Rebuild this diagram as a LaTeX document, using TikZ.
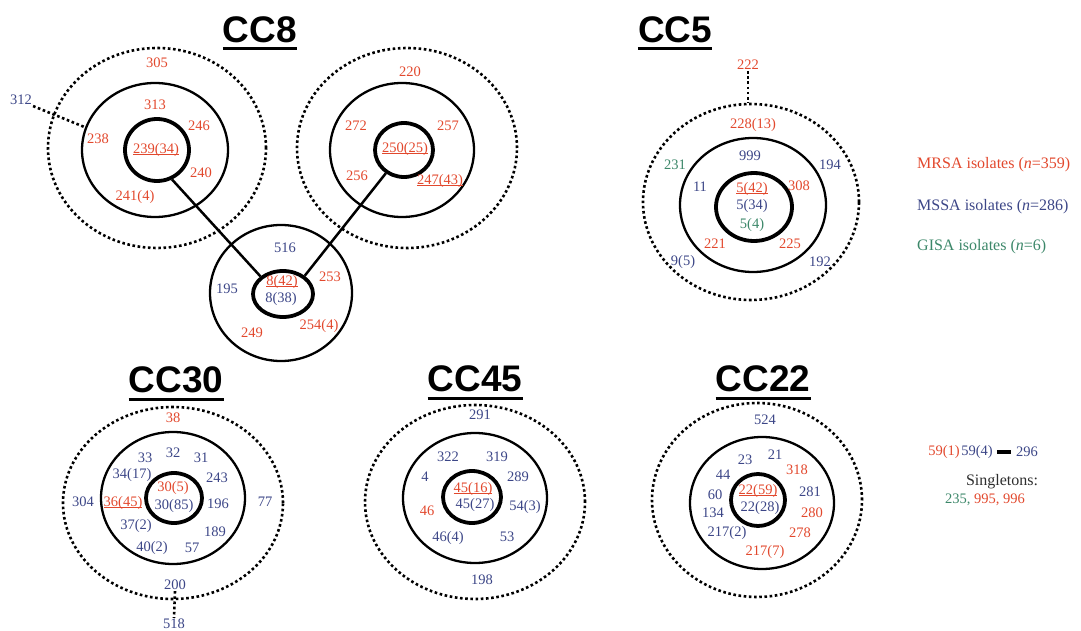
\documentclass[tikz,border=0pt]{standalone}
\usepackage{fontspec}
\setmainfont{Liberation Serif}
\newfontfamily\titlef{Liberation Sans}
\usetikzlibrary{shapes.geometric}
\definecolor{mrsa}{RGB}{226,72,45}
\definecolor{mssa}{RGB}{60,70,135}
\definecolor{gisa}{RGB}{60,135,105}
\definecolor{sgl}{RGB}{45,45,45}
\newcommand{\ulnum}[1]{\underline{\raisebox{0pt}[\height][0pt]{#1}}}
\tikzset{
  outerring/.style n args={2}{draw,ellipse,inner sep=0pt,line width=2.6pt,dash pattern=on 2.6pt off 2.6pt,minimum width=#1,minimum height=#2},
  midring/.style n args={2}{draw,ellipse,inner sep=0pt,line width=2.3pt,minimum width=#1,minimum height=#2},
  corering/.style n args={2}{draw,ellipse,inner sep=0pt,line width=3.8pt,minimum width=#1,minimum height=#2},
  lbl/.style={inner sep=1pt,font=\fontsize{14.5}{16}\selectfont},
  R/.style={lbl,text=mrsa},
  B/.style={lbl,text=mssa},
  G/.style={lbl,text=gisa},
  leg/.style={inner sep=0pt,anchor=west,font=\fontsize{16}{18}\selectfont},
  cctitle/.style={inner sep=0pt,font=\titlef\bfseries\fontsize{37}{40}\selectfont},
  uline/.style={line width=3pt},
  link/.style={line width=2.5pt},
  dotlink/.style={line width=2.6pt,dash pattern=on 2.6pt off 2.6pt},
}
\begin{document}
\begin{tikzpicture}[x=1pt,y=-1pt]
\useasboundingbox (0,0) rectangle (1081,631);
% ---------- titles ----------
\foreach \nm/\tx/\px/\py in {t8/CC8/260/29.5, t5/CC5/675/29.5, t30/CC30/176/380, t45/CC45/475/379, t22/CC22/763/379}{
  \node[cctitle] (\nm) at (\px,\py) {\tx};
  \draw[uline] ([yshift=-6pt]\nm.south west) -- ([yshift=-6pt]\nm.south east);
}
% ---------- CC8 left ----------
\node[outerring={218pt}{200pt}] (o239) at (157,148) {};
\node[midring={146pt}{134pt}] (m239) at (155,150) {};
\node[corering={64pt}{62pt}] (c239) at (157,150) {};
\node[R] (l305) at (157,63) {305};
\node[B] (l312) at (21,100) {312};
\node[R] (l313) at (155,105) {313};
\node[R] (l246) at (199,126) {246};
\node[R] (l238) at (98,139) {238};
\node[R] (l239) at (156,149) {\ulnum{239(34)}};
\node[R] (l240) at (201,173) {240};
\node[R] (l241) at (135,197) {241(4)};
\draw[dotlink] (l312.south east) -- (m239.162);
% ---------- CC8 right ----------
\node[outerring={220pt}{200pt}] (o250) at (407,148) {};
\node[midring={144pt}{134pt}] (m250) at (402,150) {};
\node[corering={58pt}{54pt}] (c250) at (404,150) {};
\node[R] (l220) at (410,72) {220};
\node[R] (l272) at (356,126) {272};
\node[R] (l257) at (448,126) {257};
\node[R] (l250) at (405,148) {\ulnum{250(25)}};
\node[R] (l256) at (357,176) {256};
\node[R] (l247) at (440,180) {\ulnum{247(43)}};
% ---------- CC8 bottom ----------
\node[midring={142pt}{136pt}] (m8) at (281,293) {};
\node[corering={60pt}{46pt}] (c8) at (283,294) {};
\node[B] (l516) at (285,248) {516};
\node[B] (l195) at (227,289) {195};
\node[R] (l842) at (282,281) {\ulnum{8(42)}};
\node[B] (l838) at (281,299) {8(38)};
\node[R] (l253) at (330,277) {253};
\node[R] (l249) at (252,333) {249};
\node[R] (l254) at (319,326) {254(4)};
\draw[link] (c239.-63) -- (c8.142);
\draw[link] (c250.-128) -- (c8.40);
% ---------- CC5 ----------
\node[outerring={216pt}{196pt}] (o5) at (751,202) {};
\node[midring={146pt}{134pt}] (m5) at (753,205) {};
\node[corering={76pt}{68pt}] (c5) at (754,207) {};
\node[R] (l222) at (748,65) {222};
\draw[dotlink] (l222.south) -- (l222.south |- o5.north);
\node[R] (l228) at (753,125) {228(13)};
\node[B] (l999) at (750,156) {999};
\node[G] (l231) at (675,165) {231};
\node[B] (l194) at (830,165) {194};
\node[B] (l11) at (700,187) {11};
\node[R] (l542) at (752,188) {\ulnum{5(42)}};
\node[R] (l308) at (799,186) {308};
\node[B] (l534) at (752,206) {5(34)};
\node[G] (l54) at (752,225) {5(4)};
\node[R] (l221) at (715,244) {221};
\node[R] (l225) at (790,244) {225};
\node[B] (l95) at (683,262) {9(5)};
\node[B] (l192) at (820,262) {192};
% ---------- legend ----------
\node[leg,text=mrsa] (legR) at (917,165) {MRSA isolates (\textit{n}=359)};
\node[leg,text=mssa] (legB) at (917,207) {MSSA isolates (\textit{n}=286)};
\node[leg,text=gisa] (legG) at (917,247) {GISA isolates (\textit{n}=6)};
% ---------- CC30 ----------
\node[outerring={220pt}{192pt}] (o30) at (173,503) {};
\node[midring={144pt}{132pt}] (m30) at (173,498) {};
\node[corering={56pt}{50pt}] (c30) at (174,498) {};
\node[R] (l38) at (173,418) {38};
\node[B] (l33) at (145,458) {33};
\node[B] (l32) at (173,453) {32};
\node[B] (l31) at (201,458) {31};
\node[B] (l34) at (132,475) {34(17)};
\node[B] (l243) at (217,478) {243};
\node[R] (l305b) at (173,488) {30(5)};
\node[B] (l304) at (83,502) {304};
\node[R] (l36) at (123,502) {\ulnum{36(45)}};
\node[B] (l3085) at (174,506) {30(85)};
\node[B] (l196) at (218,504) {196};
\node[B] (l77) at (265,502) {77};
\node[B] (l37) at (136,526) {37(2)};
\node[B] (l189) at (215,532) {189};
\node[B] (l40) at (152,548) {40(2)};
\node[B] (l57) at (192,548) {57};
\node[B] (l200) at (175,585) {200};
\node[B] (l518) at (174,624) {518};
\draw[dotlink] (l200.south) -- (l518.north);
% ---------- CC45 ----------
\node[outerring={220pt}{194pt}] (o45) at (475,502) {};
\node[midring={144pt}{130pt}] (m45) at (475,498) {};
\node[corering={58pt}{52pt}] (c45) at (472,497) {};
\node[B] (l291) at (480,415) {291};
\node[B] (l322) at (448,457) {322};
\node[B] (l319) at (497,457) {319};
\node[B] (l4) at (425,477) {4};
\node[B] (l289) at (518,477) {289};
\node[R] (l4516) at (473,488) {\ulnum{45(16)}};
\node[R] (l46) at (427,511) {46};
\node[B] (l4527) at (475,505) {45(27)};
\node[B] (l543) at (525,507) {54(3)};
\node[B] (l464) at (448,538) {46(4)};
\node[B] (l53) at (507,537) {53};
\node[B] (l198) at (482,580) {198};
% ---------- CC22 ----------
\node[outerring={210pt}{194pt}] (o22) at (757,500) {};
\node[midring={144pt}{132pt}] (m22) at (762,503) {};
\node[corering={54pt}{52pt}] (c22) at (758,500) {};
\node[B] (l524) at (765,420) {524};
\node[B] (l23) at (745,460) {23};
\node[B] (l21) at (775,455) {21};
\node[B] (l44) at (723,475) {44};
\node[R] (l318) at (797,470) {318};
\node[B] (l60) at (715,495) {60};
\node[R] (l2259) at (758,490) {\ulnum{22(59)}};
\node[B] (l281) at (810,492) {281};
\node[B] (l134) at (713,513) {134};
\node[B] (l2228) at (760,508) {22(28)};
\node[R] (l280) at (812,513) {280};
\node[B] (l2172) at (727,533) {217(2)};
\node[R] (l278) at (800,533) {278};
\node[R] (l2177) at (765,552) {217(7)};
% ---------- bottom right ----------
\node[R] (l591) at (944,452) {59(1)};
\node[B] (l594) at (977,452) {59(4)};
\node[B] (l296) at (1027,452) {296};
\draw[line width=3.5pt] ([xshift=3pt]l594.east) -- ([xshift=-4pt]l296.west);
\node[inner sep=0pt,text=sgl,font=\fontsize{16}{18}\selectfont] (sing) at (1002,482) {Singletons:};
\node[lbl] (singl) at (985,500) {\textcolor{gisa}{235,} \textcolor{mrsa}{995, 996}};
\end{tikzpicture}
\end{document}
